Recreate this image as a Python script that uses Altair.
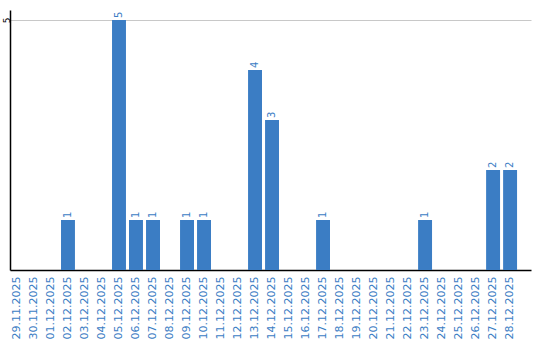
import altair as alt
import pandas as pd

dates = ["29.11.2025", "30.11.2025", "01.12.2025", "02.12.2025", "03.12.2025",
         "04.12.2025", "05.12.2025", "06.12.2025", "07.12.2025", "08.12.2025",
         "09.12.2025", "10.12.2025", "11.12.2025", "12.12.2025", "13.12.2025",
         "14.12.2025", "15.12.2025", "16.12.2025", "17.12.2025", "18.12.2025",
         "19.12.2025", "20.12.2025", "21.12.2025", "22.12.2025", "23.12.2025",
         "24.12.2025", "25.12.2025", "26.12.2025", "27.12.2025", "28.12.2025"]
counts = [0, 0, 0, 1, 0, 0, 5, 1, 1, 0, 1, 1, 0, 0, 4, 3, 0, 0, 1, 0,
          0, 0, 0, 0, 1, 0, 0, 0, 2, 2]

df = pd.DataFrame({"date": dates, "count": counts})
df["label"] = df["count"].apply(lambda v: str(v) if v > 0 else "")

BLUE = "#3b7dc4"
FONT = "DejaVu Sans"

x = alt.X("date:N", sort=dates, title=None,
          scale=alt.Scale(paddingInner=0.18, paddingOuter=0.41, align=0),
          axis=alt.Axis(labelAngle=-90, labelColor=BLUE, labelFont=FONT,
                        labelFontSize=11, ticks=False, labelPadding=6,
                        domainColor="#000000", domainWidth=1.5, grid=False))
y = alt.Y("count:Q", title=None,
          scale=alt.Scale(domain=[0, 5.2], nice=False),
          axis=alt.Axis(values=[5], labelAngle=-90, labelFont=FONT,
                        labelFontSize=9, labelColor="#000000", ticks=False,
                        labelPadding=4, labelBaseline="middle", labelAlign="center",
                        domainColor="#000000", domainWidth=1.5,
                        grid=True, gridColor="#c8c8c8", gridWidth=1))

bars = alt.Chart(df).mark_bar(color=BLUE).encode(x=x, y=y)
text = alt.Chart(df).mark_text(angle=270, align="left", baseline="middle",
                               dx=2, color=BLUE, font=FONT, fontSize=10).encode(
    x=alt.X("date:N", sort=dates), y="count:Q", text="label:N")

chart = (bars + text).properties(
    width=521, height=260,
    background="white",
    autosize=alt.AutoSizeParams(type="none"),
    padding={"left": 10, "top": 10, "right": 9, "bottom": 70},
).configure_view(stroke=None, strokeWidth=0)

chart.save("out.html", embed_options={"renderer": "svg", "actions": False})
